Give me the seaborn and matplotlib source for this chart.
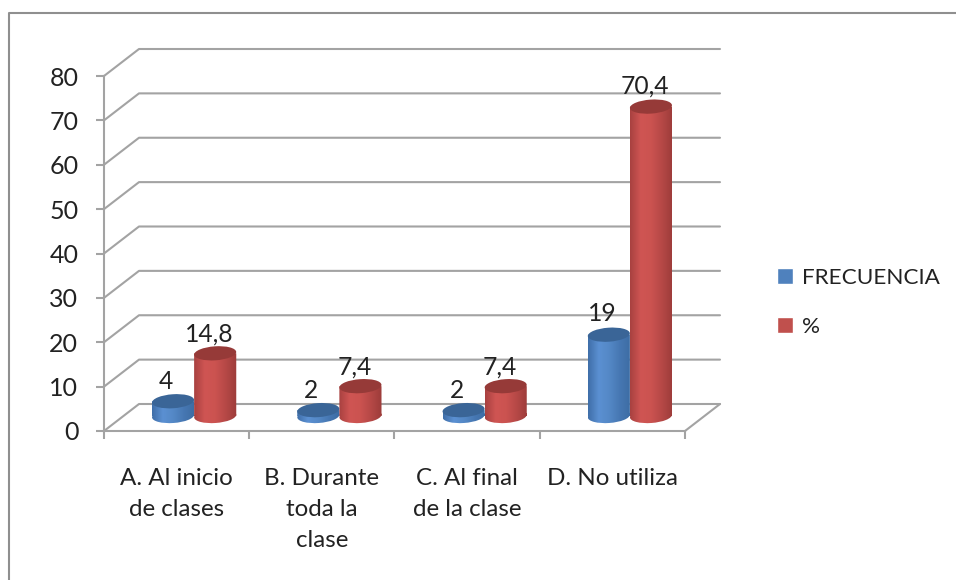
import numpy as np
import pandas as pd
import seaborn as sns
import matplotlib
matplotlib.use("Agg")
import matplotlib.pyplot as plt
from matplotlib.lines import Line2D
from matplotlib.path import Path
from matplotlib.patches import Ellipse
from matplotlib.transforms import IdentityTransform
from matplotlib.colors import LinearSegmentedColormap

categories = ["A. Al inicio\nde clases", "B. Durante\ntoda la\nclase", "C. Al final\nde la clase", "D. No utiliza"]
frecuencia = [4, 2, 2, 19]
porcentaje = [14.8, 7.4, 7.4, 70.4]
value_labels_f = ["4", "2", "2", "19"]
value_labels_p = ["14,8", "7,4", "7,4", "70,4"]
series_names = ["FRECUENCIA", "%"]
yticks = [0, 10, 20, 30, 40, 50, 60, 70, 80]

GRAY = "#a3a3a3"
TXT = "#222222"
sns.set_theme(style="white")
plt.rcParams["font.family"] = ["Lato", "DejaVu Sans"]

W, H = 956, 580
fig = plt.figure(figsize=(W / 100, H / 100), dpi=100)
ax = fig.add_axes([104 / W, (H - 431) / H, 581 / W, 355 / H])

df = pd.DataFrame({
    "cat": categories * 2,
    "serie": [series_names[0]] * 4 + [series_names[1]] * 4,
    "valor": frecuencia + porcentaje,
})
sns.barplot(data=df, x="cat", y="valor", hue="serie", order=categories, hue_order=series_names,
            palette=["#4f81bd", "#c0504d"], width=0.58, gap=0, saturation=1, ax=ax, legend=True, zorder=1)
ax.set_autoscale_on(False)
ax.set_xlim(-0.5, 3.5)
ax.set_ylim(0, 80)
ax.set_xlabel("")
ax.set_ylabel("")
for s in ax.spines.values():
    s.set_visible(False)
ax.spines["left"].set_visible(True)
ax.spines["left"].set_color(GRAY)
ax.spines["left"].set_linewidth(1.5)
ax.spines["bottom"].set_visible(True)
ax.spines["bottom"].set_color(GRAY)
ax.spines["bottom"].set_linewidth(1.5)
ax.set_yticks(yticks)
ax.tick_params(axis="y", left=True, length=6, width=1.5, color=GRAY, pad=12.5, labelsize=18, labelcolor=TXT)
ax.tick_params(axis="x", which="major", bottom=False, length=0, pad=26.5, labelsize=17.4, labelcolor=TXT)
ax.set_xticks(np.arange(-0.5, 4, 1), minor=True)
ax.tick_params(axis="x", which="minor", bottom=True, length=6, width=1.5, color=GRAY)
for t in ax.get_xticklabels():
    t.set_linespacing(1.6)

# depth in pixels of the pseudo-3D box
DX, DY = 35, 27
MX, MY, MY_BASE = 17.5, 12, 15


def add_line(xs, ys, z=0.5):
    ax.add_line(Line2D(xs, ys, transform=IdentityTransform(), color=GRAY, lw=1.5, clip_on=False, zorder=z))


fig.canvas.draw()
for v in yticks:
    x0, y0 = ax.transData.transform((-0.5, v))
    x1, _ = ax.transData.transform((3.5, v))
    add_line([x0, x0 + DX, x1 + DX], [y0, y0 + DY, y0 + DY])
x1, y0 = ax.transData.transform((3.5, 0))
add_line([x1, x1 + DX], [y0, y0 + DY])

# cylinders built from the bars of the seaborn plot
ramps = [
    (["#3f6ea8", "#5b90d2", "#5488c6", "#4677b2", "#3d6ca3"], "#3a6597"),
    (["#a84140", "#cf5553", "#cb5350", "#b54846", "#9c3c3a"], "#963a38"),
]
EH = 14
ANG = 4
grad = np.linspace(0, 1, 128).reshape(1, -1)
for container, (ramp, top_col) in zip(ax.containers, ramps):
    cmap = LinearSegmentedColormap.from_list("c", ramp)
    for bar in container:
        xd, w, h = bar.get_x(), bar.get_width(), bar.get_height()
        (px0, py0), (px1, py1) = ax.transData.transform([(xd, 0), (xd + w, h)])
        px0 += MX; px1 += MX; py0 += MY_BASE; py1 += MY
        pw = px1 - px0
        cx = (px0 + px1) / 2
        bar.set_visible(False)
        bottom = Ellipse((cx, py0), pw, EH, angle=ANG)
        epath = bottom.get_path().transformed(bottom.get_patch_transform())
        rect = Path([(px0, py0), (px1, py0), (px1, py1), (px0, py1), (px0, py0)], closed=True)
        clip = Path.make_compound_path(rect, epath)
        im = ax.imshow(grad, extent=[px0, px1, py0 - EH, py1 + EH], cmap=cmap, aspect="auto",
                       transform=IdentityTransform(), zorder=2, interpolation="bilinear")
        im.set_clip_path(clip, IdentityTransform())
        ax.add_patch(Ellipse((cx, py1), pw, EH, angle=ANG, facecolor=top_col, edgecolor="none",
                             transform=IdentityTransform(), clip_on=False, zorder=2.1))
ax.set_xlim(-0.5, 3.5)
ax.set_ylim(0, 80)

# value labels
for container, labels, shift, lifts in zip(ax.containers, [value_labels_f, value_labels_p], [-7, -6],
                                           [[20, 20, 20, 21], [19, 19, 19, 21]]):
    for bar, lab, lift in zip(container, labels, lifts):
        ax.annotate(lab, (bar.get_x() + bar.get_width() / 2, bar.get_height()), xycoords="data",
                    xytext=((MX + shift) * 0.72, (MY + lift) * 0.72), textcoords="offset points",
                    ha="center", va="center", fontsize=17.7, color=TXT, annotation_clip=False, zorder=4)

# legend
handles, labels = ax.get_legend_handles_labels()
ax.get_legend().remove()
fig.legend(handles, labels, loc="upper left", bbox_to_anchor=(770 / W, 1 - 261 / H), frameon=False,
           fontsize=16.2, labelcolor=TXT, handlelength=0.72, handleheight=0.72, handletextpad=0.4,
           labelspacing=1.3, borderaxespad=0, borderpad=0.3)

# outer frame
fig.add_artist(Line2D([9, 9, W], [0, H - 13, H - 13], transform=IdentityTransform(), color="#8f8f8f", lw=1.5))

fig.savefig("out.png", dpi=100)
